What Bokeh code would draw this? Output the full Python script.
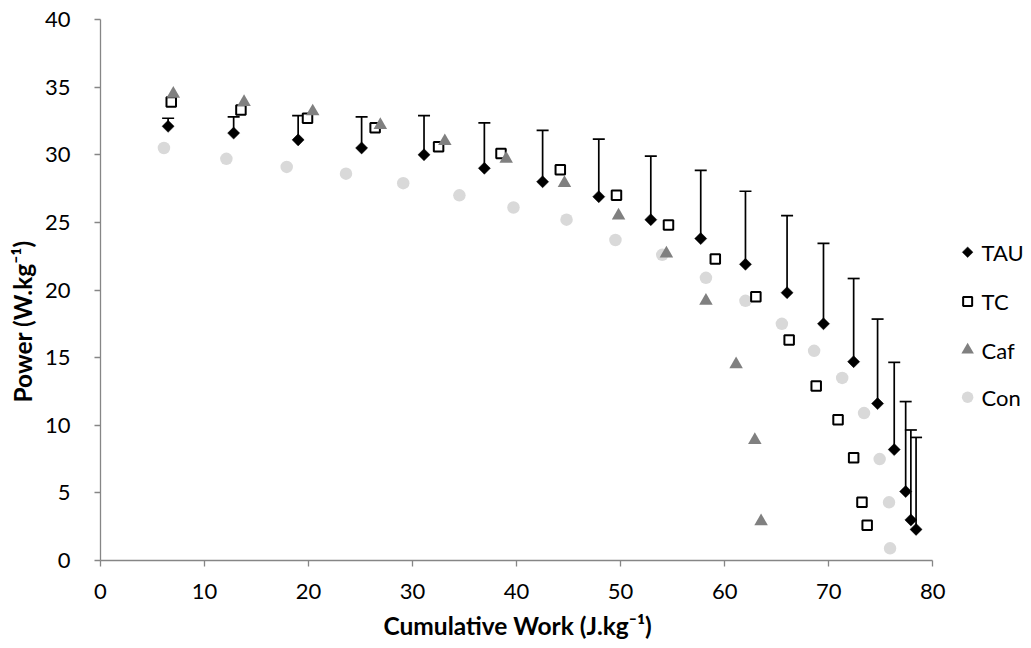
from math import pi

from bokeh.core.properties import value
from bokeh.embed import file_html
from bokeh.models import ColumnDataSource, FixedTicker, Range1d, Title
from bokeh.plotting import figure
from bokeh.resources import INLINE

# ---- data: cumulative work (J/kg) vs power (W/kg) per condition ----
tau_work = [6.5, 12.8, 19.0, 25.1, 31.1, 36.9, 42.5, 47.9, 52.9, 57.7,
            62.0, 66.0, 69.5, 72.4, 74.7, 76.3, 77.4, 77.9, 78.4]
tau_power = [32.1, 31.6, 31.1, 30.5, 30.0, 29.0, 28.0, 26.9, 25.2, 23.8,
             21.9, 19.8, 17.5, 14.7, 11.6, 8.2, 5.1, 3.0, 2.3]
tau_sd = [0.6, 1.2, 1.8, 2.3, 2.9, 3.35, 3.8, 4.25, 4.7, 5.05,
          5.4, 5.7, 5.95, 6.15, 6.25, 6.45, 6.65, 6.65, 6.8]

tc_work = [6.8, 13.5, 19.9, 26.4, 32.5, 38.5, 44.2, 49.6, 54.6, 59.1,
           63.0, 66.2, 68.8, 70.9, 72.4, 73.2, 73.7]
tc_power = [33.9, 33.3, 32.7, 32.0, 30.6, 30.1, 28.9, 27.0, 24.8, 22.3,
            19.5, 16.3, 12.9, 10.4, 7.6, 4.3, 2.6]

caf_work = [7.0, 13.8, 20.4, 26.9, 33.1, 39.0, 44.6, 49.8, 54.4, 58.2,
            61.1, 62.9, 63.5]
caf_power = [34.5, 33.9, 33.2, 32.2, 31.0, 29.7, 27.9, 25.5, 22.7, 19.2,
             14.5, 8.9, 2.9]

con_work = [6.1, 12.1, 17.9, 23.6, 29.1, 34.5, 39.7, 44.8, 49.5, 54.0,
            58.2, 62.0, 65.5, 68.6, 71.3, 73.4, 74.9, 75.8, 75.9]
con_power = [30.5, 29.7, 29.1, 28.6, 27.9, 27.0, 26.1, 25.2, 23.7, 22.6,
             20.9, 19.2, 17.5, 15.5, 13.5, 10.9, 7.5, 4.3, 0.9]

series_names = ["TAU", "TC", "Caf", "Con"]
x_ticks = [0, 10, 20, 30, 40, 50, 60, 70, 80]
y_ticks = [0, 5, 10, 15, 20, 25, 30, 35, 40]

# ---- layout ----
W, H = 1031, 648
FRAME_L, FRAME_T, FRAME_B = 98, 19, 560
AXIS_R = 932                      # pixel where the x axis ends (x = 80)
X_MAX, Y_MAX = 80, 40
x_end = X_MAX * (W - FRAME_L) / (AXIS_R - FRAME_L)   # frame runs on to the right edge for the key

FONT = "Lato"
FS = "22px"
TITLE_FS = "24.5px"
TXT = "#000000"
AXIS_GREY = "#868686"

p = figure(width=W, height=H, output_backend="svg", toolbar_location=None,
           x_range=Range1d(0, x_end), y_range=Range1d(0, Y_MAX),
           min_border_left=FRAME_L, min_border_right=0,
           min_border_top=FRAME_T, min_border_bottom=H - FRAME_B)
p.outline_line_color = None
p.grid.visible = False
p.background_fill_color = "white"
p.border_fill_color = "white"

for ax in (p.xaxis[0], p.yaxis[0]):
    ax.axis_line_color = AXIS_GREY
    ax.axis_line_width = 1.3
    ax.major_tick_line_color = AXIS_GREY
    ax.major_tick_line_width = 1.3
    ax.major_tick_out = 6
    ax.major_tick_in = 0
    ax.minor_tick_line_color = None
    ax.major_label_text_font = FONT
    ax.major_label_text_font_size = FS
    ax.major_label_text_color = TXT

p.xaxis[0].ticker = FixedTicker(ticks=x_ticks)
p.xaxis[0].bounds = (0, X_MAX)
p.xaxis[0].major_label_standoff = 17
p.yaxis[0].ticker = FixedTicker(ticks=y_ticks)
p.yaxis[0].major_label_standoff = 24

# ---- axis titles (side panels, placed along the axis by offset) ----
x_title = Title(text="Cumulative Work (J.kg⁻¹)", align="left", offset=283,
                text_font=FONT, text_font_style="bold", text_font_size=TITLE_FS,
                text_color=TXT, standoff=14.5)
y_title = Title(text="Power (W.kg⁻¹)", align="left", offset=158,
                text_font=FONT, text_font_style="bold", text_font_size=TITLE_FS,
                text_color=TXT, standoff=10)
p.add_layout(x_title, "below")
p.add_layout(y_title, "left")

# ---- TAU error bars (upper SD only) ----
tau_top = [y + e for y, e in zip(tau_power, tau_sd)]
err_src = ColumnDataSource(dict(x=tau_work, y=tau_power, top=tau_top))
p.segment(x0="x", y0="y", x1="x", y1="top", source=err_src,
          line_color="black", line_width=1.7)
p.scatter(x="x", y="top", source=err_src, marker="dash", size=12,
          line_color="black", line_width=1.7)

# ---- markers ----
p.scatter(tau_work, tau_power, marker="square", angle=pi / 4, size=8.5,
          fill_color="black", line_color="black", line_width=0.5)
p.scatter(con_work, con_power, marker="circle", size=12.5,
          fill_color="#D9D9D9", line_color=None)
p.scatter(tc_work, tc_power, marker="square", size=9.5,
          fill_color="white", line_color="black", line_width=2)
p.scatter(caf_work, caf_power, marker="triangle", size=13.5,
          fill_color="#808080", line_color=None)

# ---- key at the right of the axes ----
def px_x(px):
    return (px - FRAME_L) * x_end / (W - FRAME_L)

def px_y(py):
    return (FRAME_B - py) * Y_MAX / (FRAME_B - FRAME_T)

key_rows = [251.7, 301.0, 349.5, 396.7]
kx = px_x(967)
ky = [px_y(r) for r in key_rows]
p.scatter([kx], [ky[0]], marker="square", angle=pi / 4, size=7.5,
          fill_color="black", line_color="black", line_width=0.5)
p.scatter([kx], [ky[1]], marker="square", size=9, fill_color="white",
          line_color="black", line_width=2)
p.scatter([kx], [ky[2]], marker="triangle", size=12.5,
          fill_color="#808080", line_color=None)
p.scatter([kx], [ky[3]], marker="circle", size=11.5,
          fill_color="#D9D9D9", line_color=None)
p.text(x=[px_x(981)] * 4, y=ky, text=series_names,
       text_font=value(FONT), text_font_size=FS, text_color=TXT,
       text_align="left", text_baseline="middle")

open("out.html", "w").write(file_html(p, INLINE))
